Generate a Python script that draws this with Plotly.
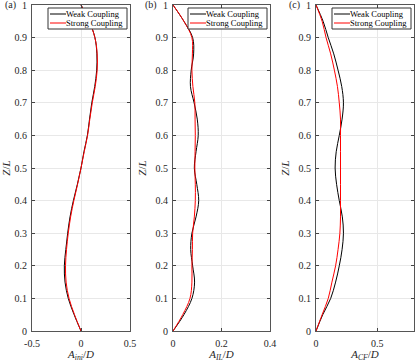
import plotly.graph_objects as go

# span-wise position
z = [0.0, 0.05, 0.1, 0.15, 0.2, 0.25, 0.3, 0.35, 0.4, 0.45, 0.5,
     0.55, 0.6, 0.65, 0.7, 0.75, 0.8, 0.85, 0.9, 0.95, 1.0]

# (a) initial amplitude
a_ini_weak = [0, -0.07, -0.13, -0.163, -0.17, -0.155, -0.136, -0.112, -0.078, -0.037, 0.0,
              0.03, 0.065, 0.087, 0.11, 0.14, 0.16, 0.162, 0.142, 0.085, 0]
a_ini_strong = [0, -0.066, -0.122, -0.152, -0.158, -0.148, -0.13, -0.106, -0.073, -0.035, 0.0,
                0.033, 0.067, 0.09, 0.115, 0.145, 0.165, 0.165, 0.142, 0.083, 0]

# (b) in-line amplitude
a_il_weak = [0, 0.045, 0.078, 0.089, 0.081, 0.073, 0.078, 0.095, 0.106, 0.098, 0.088,
             0.095, 0.104, 0.1, 0.087, 0.072, 0.075, 0.085, 0.081, 0.045, 0]
a_il_strong = [0, 0.04, 0.07, 0.078, 0.078, 0.08, 0.081, 0.088, 0.092, 0.092, 0.09,
               0.091, 0.092, 0.091, 0.09, 0.082, 0.078, 0.08, 0.078, 0.045, 0]

# (c) cross-flow amplitude
a_cf_weak = [0, 0.055, 0.12, 0.16, 0.19, 0.213, 0.224, 0.215, 0.19, 0.168, 0.156,
             0.165, 0.19, 0.213, 0.224, 0.21, 0.18, 0.145, 0.1, 0.058, 0]
a_cf_strong = [0, 0.05, 0.1, 0.13, 0.16, 0.18, 0.195, 0.2, 0.2, 0.2, 0.2,
               0.2, 0.2, 0.2, 0.19, 0.175, 0.15, 0.12, 0.082, 0.05, 0]

z_ticks = [k / 10 for k in range(11)]
z_ticklabels = ["0", "0.1", "0.2", "0.3", "0.4", "0.5", "0.6", "0.7", "0.8", "0.9", "1"]

panels = [
    ("(a)", "<i>A</i><sub><i>ini</i></sub>/<i>D</i>", a_ini_weak, a_ini_strong,
     [-0.5, 0.5], [-0.5, 0, 0.5], ["-0.5", "0", "0.5"], (32, 130)),
    ("(b)", "<i>A</i><sub><i>IL</i></sub>/<i>D</i>", a_il_weak, a_il_strong,
     [0, 0.4], [0, 0.2, 0.4], ["0", "0.2", "0.4"], (173, 270)),
    ("(c)", "<i>A</i><sub><i>CF</i></sub>/<i>D</i>", a_cf_weak, a_cf_strong,
     [0, 0.8], [0, 0.5], ["0", "0.5"], (316, 414)),
]

W, H = 415, 362
top, bottom = 5, 331
FONT = "Liberation Serif"
TXT = "#262626"

fig = go.Figure()
shapes, annotations = [], []
ydom = [1 - bottom / H, 1 - top / H]

for i, (tag, xlab, weak, strong, xr, xt, xtl, (px0, px1)) in enumerate(panels):
    n = "" if i == 0 else str(i + 1)
    xa, ya = "x" + n, "y" + n
    fig.add_trace(go.Scatter(x=weak, y=z, xaxis=xa, yaxis=ya, mode="lines",
                             line=dict(color="black", width=1, shape="spline"),
                             showlegend=False, hoverinfo="skip"))
    fig.add_trace(go.Scatter(x=strong, y=z, xaxis=xa, yaxis=ya, mode="lines",
                             line=dict(color="red", width=1, shape="spline"),
                             showlegend=False, hoverinfo="skip"))
    axis_common = dict(showline=True, mirror="ticks", linecolor="#555", linewidth=1,
                       ticks="inside", ticklen=3, tickcolor="#444",
                       showgrid=True, gridcolor="#e8e8e8", zeroline=False,
                       automargin=False, ticklabeloverflow="allow",
                       tickfont=dict(family=FONT, size=10, color=TXT))
    fig.update_layout(**{
        "xaxis" + n: dict(domain=[px0 / W, px1 / W], range=xr, tickvals=xt, ticktext=xtl,
                          anchor=ya, ticklabelstandoff=3,
                          title=dict(text=xlab, font=dict(family=FONT, size=11, color=TXT),
                                     standoff=4),
                          **axis_common),
        "yaxis" + n: dict(domain=ydom, range=[0, 1], anchor=xa,
                          tickvals=z_ticks, ticktext=z_ticklabels, ticklabelstandoff=2,
                          title=dict(text="<i>Z</i>/<i>L</i>",
                                     font=dict(family=FONT, size=11, color=TXT), standoff=6),
                          **axis_common),
    })

    # panel tag
    annotations.append(dict(text=tag, x=(px0 - 14) / W, y=1 - top / H, xref="paper", yref="paper",
                            xanchor="right", yanchor="middle", showarrow=False,
                            font=dict(family=FONT, size=10, color=TXT)))

    # legend box drawn in axis-domain coordinates
    pw = px1 - px0
    lx0 = 1 - 82 / pw
    lx1 = 1 - 3 / pw
    ph = bottom - top
    shapes.append(dict(type="rect", xref=xa + " domain", yref=ya + " domain",
                       x0=lx0, x1=lx1, y0=1 - 24 / ph, y1=1 - 3 / ph,
                       line=dict(color="#333", width=1), fillcolor="white", layer="above"))
    for k, (lbl, col) in enumerate([("Weak Coupling", "black"), ("Strong Coupling", "red")]):
        yy = 1 - (9 + 9 * k) / ph
        shapes.append(dict(type="line", xref=xa + " domain", yref=ya + " domain",
                           x0=lx0 + 2 / pw, x1=lx0 + 18 / pw, y0=yy, y1=yy,
                           line=dict(color=col, width=1), layer="above"))
        annotations.append(dict(text=lbl, xref=xa + " domain", yref=ya + " domain",
                                x=lx0 + 17 / pw, y=yy, xanchor="left", yanchor="middle",
                                showarrow=False, xshift=-1,
                                font=dict(family=FONT, size=8.5, color="black")))

fig.update_layout(width=W, height=H, margin=dict(l=0, r=0, t=0, b=0),
                  plot_bgcolor="white", paper_bgcolor="white", hovermode=False,
                  shapes=shapes, annotations=annotations)

fig.write_html("out.html", config={"displayModeBar": False},
               post_script="document.body.style.margin='0';"
                           "document.documentElement.style.overflow='hidden';")
